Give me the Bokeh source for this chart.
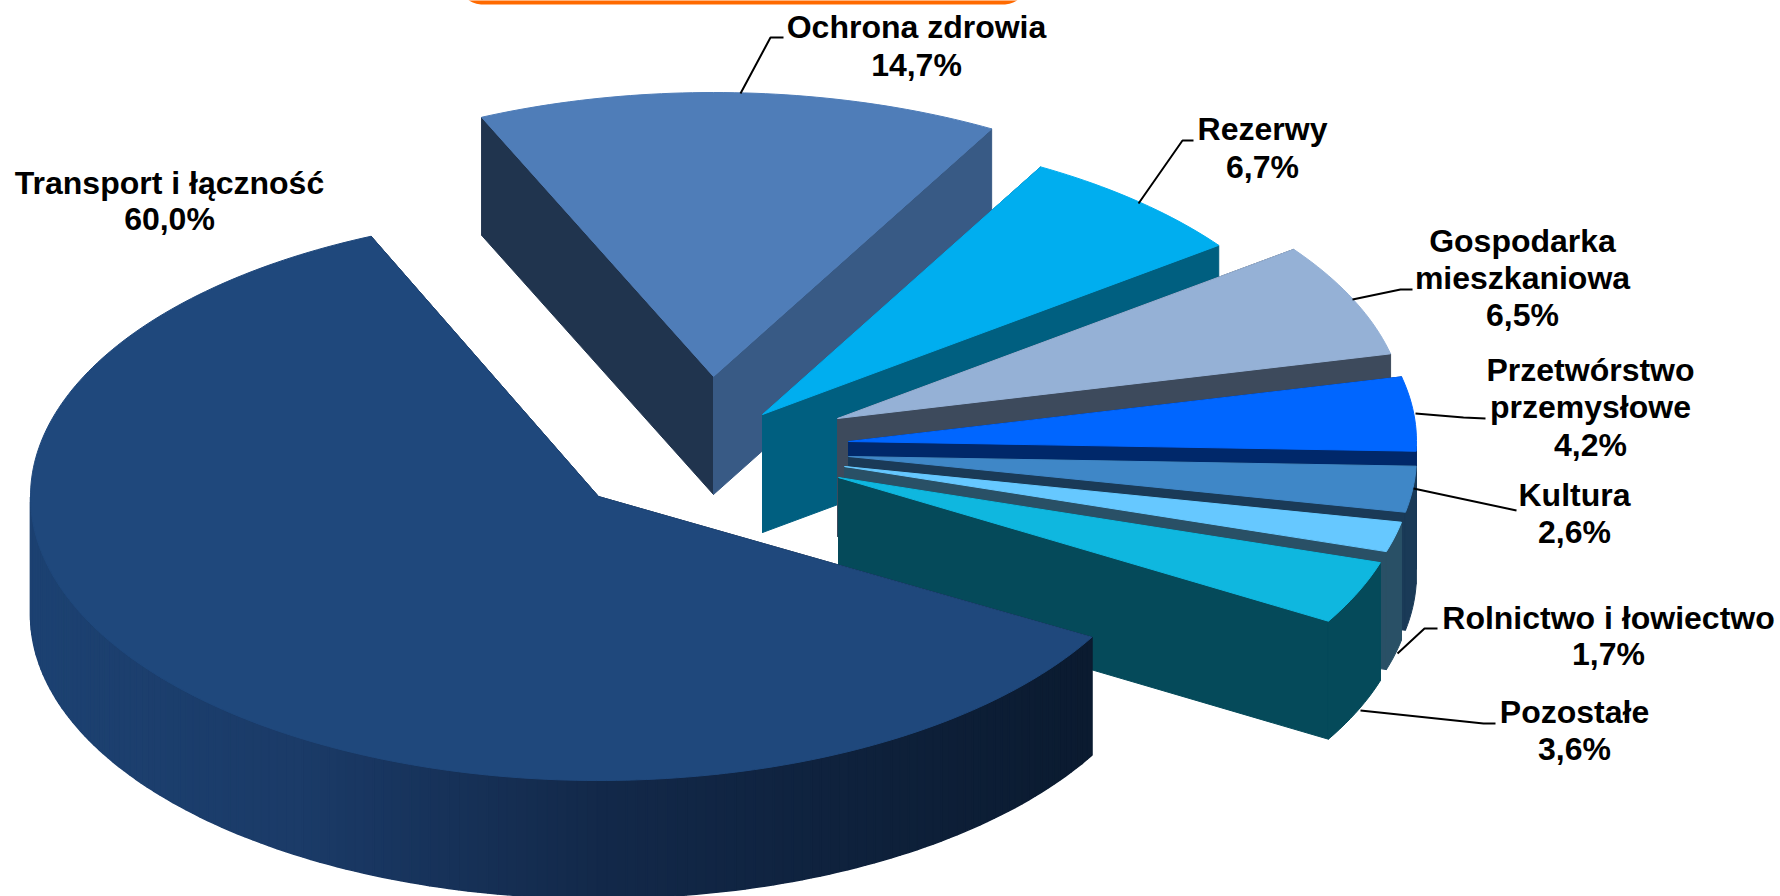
import numpy as np
from bokeh.core.properties import value
from bokeh.embed import file_html
from bokeh.models import Range1d
from bokeh.plotting import figure
from bokeh.resources import INLINE

# ---- data -----------------------------------------------------------------
categories = ["Ochrona zdrowia", "Rezerwy", "Gospodarka mieszkaniowa", "Przetwórstwo przemysłowe",
              "Kultura", "Rolnictwo i łowiectwo", "Pozostałe", "Transport i łączność"]
shares = [14.7, 6.7, 6.5, 4.2, 2.6, 1.7, 3.6, 60.0]
share_labels = ["14,7%", "6,7%", "6,5%", "4,2%", "2,6%", "1,7%", "3,6%", "60,0%"]
label_lines = [["Ochrona zdrowia"], ["Rezerwy"], ["Gospodarka", "mieszkaniowa"], ["Przetwórstwo", "przemysłowe"],
               ["Kultura"], ["Rolnictwo i łowiectwo"], ["Pozostałe"], ["Transport i łączność"]]

# ---- style and layout ------------------------------------------------------
W, H = 1780, 896
RX, RY, DEPTH = 568.0, 284.0, 118.0
FIRST_ANGLE = 113.6
apex = [(713, 376), (762, 414), (837, 418), (848, 441), (848, 456), (844, 466), (838, 477), (598, 496)]
start_trim = [0.5, 0, 0, 0, 0, 0, 0, 0.7]      # degrees added at a slice's first edge
top_colors = ["#4f7db8", "#00aeef", "#95b1d6", "#0066ff", "#3f87c7", "#66c8ff", "#0fb7df", "#1f487c"]
wall_colors = ["#385a85", "#005f80", "#3d4a5c", "#00286a", "#1a3a57", "#295066", "#054a5a", "#0c1e33"]
start_wall_colors = ["#20344e", "#005f80", "#3d4a5c", "#00286a", "#1a3a57", "#295066", "#054a5a", "#0c1e33"]
big_wall_x = [30, 300, 600, 1093]
big_wall_rgb = [(29, 66, 114), (27, 59, 104), (19, 41, 74), (11, 27, 48)]
label_x = [916, 1262, 1522, 1590, 1574, 1608, 1574, 169]
label_y0 = [26, 128, 240, 369, 494, 617, 711, 182]
line_step = [38, 38, 37, 37.5, 37, 36.5, 37, 36]
leaders = [
    ([740, 770, 783], [93, 37, 37]),
    ([1138, 1182, 1193], [203, 140, 140]),
    ([1352, 1400, 1412], [299, 289, 289]),
    ([1415, 1463, 1485], [413, 417, 418]),
    ([1413, 1516], [488, 510]),
    ([1397, 1424, 1437], [653, 628, 628]),
    ([1360, 1483, 1495], [710, 723, 723]),
]

p = figure(width=W, height=H, output_backend="svg", toolbar_location=None,
           x_range=Range1d(0, W), y_range=Range1d(H, 0), min_border=0,
           outline_line_color=None, background_fill_color="white", margin=(0, 0, 0, 0))
p.axis.visible = False
p.grid.visible = False


def poly(xs, ys, color):
    p.patch(list(xs), list(ys), fill_color=color, line_color=color, line_width=1)


def hex_rgb(r, g, b):
    return "#%02x%02x%02x" % (int(r), int(g), int(b))


total = sum(shares)
angle = FIRST_ANGLE
for i, share in enumerate(shares):
    sweep = share / total * 360.0
    a0, a1 = angle + start_trim[i], angle - sweep
    angle = angle - sweep
    cx, cy = apex[i]
    th = np.radians(np.linspace(a0, a1, max(int(sweep), 6)))
    ax = cx + RX * np.cos(th)
    ay = cy - RY * np.sin(th)

    # radial walls
    poly([cx, ax[0], ax[0], cx], [cy, ay[0], ay[0] + DEPTH, cy + DEPTH], start_wall_colors[i])
    poly([cx, ax[-1], ax[-1], cx], [cy, ay[-1], ay[-1] + DEPTH, cy + DEPTH], wall_colors[i])

    # outer wall, front-facing part only
    front = np.sin(th) <= 1e-9
    if front.sum() >= 2:
        fx, fy = ax[front], ay[front]
        if i == len(shares) - 1:
            xs_list, ys_list, cols = [], [], []
            for j in range(len(fx) - 1):
                xm = (fx[j] + fx[j + 1]) / 2
                rgb = [np.interp(xm, big_wall_x, [c[k] for c in big_wall_rgb]) for k in range(3)]
                xs_list.append([fx[j], fx[j + 1], fx[j + 1], fx[j]])
                ys_list.append([fy[j], fy[j + 1], fy[j + 1] + DEPTH, fy[j] + DEPTH])
                cols.append(hex_rgb(*rgb))
            p.patches(xs_list, ys_list, fill_color=cols, line_color=cols, line_width=1.5)
        else:
            poly(np.r_[fx, fx[::-1]], np.r_[fy, fy[::-1] + DEPTH], wall_colors[i])

    # top face
    poly(np.r_[cx, ax], np.r_[cy, ay], top_colors[i])

# leader lines
for lx, ly in leaders:
    p.line(lx, ly, line_color="black", line_width=2)

# orange banner edge at the top of the page
bar_t = np.radians(np.linspace(40, 0, 12))
bar_r, bar_cy = 24, -20
left_x = 482 - bar_r * np.sin(bar_t)
right_x = 1003 + bar_r * np.sin(bar_t[::-1])
arc_y = bar_cy + bar_r * np.cos(bar_t)
bar_x = np.r_[left_x, right_x]
bar_y = np.r_[arc_y, arc_y[::-1]]
p.patch(bar_x, bar_y, fill_color="#ff6a00", line_color=None)

# labels
tx, ty, tt = [], [], []
for i in range(len(shares)):
    lines = label_lines[i] + [share_labels[i]]
    for k, line in enumerate(lines):
        tx.append(label_x[i])
        ty.append(label_y0[i] + k * line_step[i])
        tt.append(line)
p.text(tx, ty, text=tt, text_font=value("Liberation Sans"), text_font_style="bold",
       text_font_size="32px", text_align="center", text_baseline="middle", text_color="black")

open("out.html", "w").write(file_html(p, INLINE))
